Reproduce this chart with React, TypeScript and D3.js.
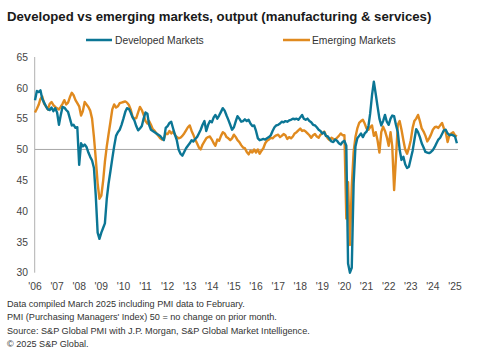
import React from "react";
import * as d3 from "d3";

// Monthly PMI values, Jan 2006 .. Feb 2025
const developed = [
  // 2006
  58.0, 59.5, 59.3, 59.6, 58.2, 57.6, 57.0, 56.5, 56.4, 56.8, 56.2, 56.7,
  // 2007
  56.0, 54.0, 55.5, 56.9, 56.8, 56.4, 56.1, 55.0, 53.9, 54.0, 53.5, 53.6,
  // 2008
  47.5, 51.0, 50.5, 50.8, 50.4, 49.5, 48.8, 48.2, 47.0, 42.5, 36.5, 35.5,
  // 2009
  36.5, 37.3, 38.0, 42.0, 44.5, 46.5, 48.5, 50.5, 52.2, 52.8, 53.2, 54.0,
  // 2010
  55.0, 56.1, 56.7, 56.6, 56.0, 55.2, 54.7, 53.8, 53.1, 53.4, 53.8, 55.0,
  // 2011
  56.0, 55.8, 54.0, 53.2, 53.0, 52.8, 52.6, 52.4, 52.2, 51.8, 51.5, 53.5,
  // 2012
  53.8, 54.3, 54.5, 53.4, 52.4, 51.5, 50.0, 49.3, 49.0, 49.6, 50.2, 50.6,
  // 2013
  51.0, 51.5, 51.3, 51.7, 52.0, 52.6, 53.2, 54.0, 54.6, 53.0, 54.0, 54.6,
  // 2014
  54.4, 55.2, 55.6, 55.0, 55.5, 56.1, 56.7, 56.3, 55.5, 54.8, 54.0, 53.2,
  // 2015
  53.6, 54.6, 55.4, 55.0, 54.5, 54.6, 54.9, 54.6, 54.8, 54.2, 53.8, 53.9,
  // 2016
  53.0, 51.8, 51.5, 51.6, 51.7, 51.6, 51.8, 52.0, 52.3, 53.0, 53.6, 53.9,
  // 2017
  54.0, 54.2, 54.5, 54.4, 54.6, 54.5, 54.7, 54.8, 55.0, 54.9, 55.0, 54.8,
  // 2018
  55.2, 55.6, 55.0, 54.8, 55.0, 54.6, 54.4, 54.0, 53.9, 53.6, 53.2, 53.0,
  // 2019
  52.6, 52.8, 52.2, 52.1, 51.7, 51.3, 51.2, 51.6, 51.4, 51.0, 50.8, 51.2,
  // 2020
  51.4, 50.6, 31.5, 30.0, 30.8, 44.5, 50.5, 51.8, 52.2, 52.6, 52.0, 52.6,
  // 2021
  52.9, 53.8, 55.8, 58.8, 61.0, 59.0, 57.0, 55.0, 53.9, 54.6, 55.6, 54.5,
  // 2022
  54.0, 55.0, 55.5, 55.4, 54.0, 52.8, 50.0, 48.3, 48.8, 47.6, 47.0, 47.2,
  // 2023
  48.5, 49.8, 51.5, 53.3, 52.8, 52.0, 51.0, 50.3, 49.6, 49.5, 49.4, 49.6,
  // 2024
  49.9, 50.4, 51.0, 51.6, 51.9, 52.5, 53.1, 53.2, 52.6, 52.3, 52.4, 52.3,
  // 2025
  52.1, 51.0,
];

const emerging = [
  // 2006
  56.0, 56.6, 57.2, 58.2, 58.6, 57.4, 57.0, 56.5, 57.4, 57.7, 57.2, 56.9,
  // 2007
  56.7, 56.5, 56.9, 57.4, 58.0, 57.3, 57.6, 58.5, 59.2, 58.8, 58.0, 57.5,
  // 2008
  57.0, 55.5, 56.2, 57.7, 57.3, 56.9, 56.3, 55.0, 52.0, 48.5, 44.5, 42.0,
  // 2009
  42.5, 45.0, 48.0, 50.5, 52.5, 54.5, 56.5, 57.3, 56.8, 57.0, 57.5, 57.6,
  // 2010
  57.7, 57.8, 57.6, 57.2, 56.5, 55.3, 55.0, 55.1, 56.0, 56.9, 56.4, 55.6,
  // 2011
  54.6, 54.2, 54.6, 54.0, 53.3, 53.0, 52.6, 52.2, 51.8, 51.6, 51.7, 52.6,
  // 2012
  52.5, 53.0, 52.6, 52.9, 52.4, 52.0, 51.8, 51.9, 52.2, 52.6, 53.1, 53.6,
  // 2013
  53.9, 53.0, 52.4, 51.6, 51.0, 50.3, 50.0, 50.8, 51.3, 51.8, 52.0, 52.1,
  // 2014
  51.6, 51.0, 50.6, 51.6, 51.4, 52.2, 52.8, 52.6, 52.0, 51.8, 51.5, 51.8,
  // 2015
  52.4, 52.0, 51.5, 51.2, 50.7, 50.3, 50.2, 49.6, 49.2, 49.8, 49.5, 50.0,
  // 2016
  49.5, 50.0, 49.3, 49.8, 50.2, 51.0, 51.4, 51.6, 51.9, 51.8, 52.1, 52.3,
  // 2017
  52.4, 52.0, 52.2, 52.5, 52.3, 51.7, 52.0, 51.8, 52.1, 52.6, 52.8, 53.1,
  // 2018
  53.4, 53.0, 53.1, 52.9, 52.6, 52.3, 51.9, 52.3, 52.5, 52.1, 51.9, 52.4,
  // 2019
  52.6, 52.9, 52.3, 51.8, 51.5, 51.9, 51.7, 51.6, 51.9, 52.2, 52.6, 52.3,
  // 2020
  52.3, 38.8, 44.7, 34.5, 44.0, 49.6, 52.0, 53.4, 54.3, 54.6, 54.8, 54.2,
  // 2021
  53.4, 53.2, 53.6, 53.9, 52.2, 52.8, 51.5, 49.5, 52.8, 53.7, 53.0, 52.0,
  // 2022
  50.6, 52.8, 50.5, 43.4, 48.5, 54.0, 54.6, 53.2, 51.5, 50.0, 49.3, 50.2,
  // 2023
  51.5, 53.5, 54.6, 55.0, 55.6, 54.6, 53.4, 52.9, 52.2, 51.3, 51.8, 52.4,
  // 2024
  53.2, 53.6, 53.7, 53.5, 53.9, 54.3, 53.4, 52.8, 51.2, 52.4, 52.6, 52.8,
  // 2025
  52.3, 52.1,
];

const yTicks = [30, 35, 40, 45, 50, 55, 60, 65];
const yearTicks = d3.range(2006, 2026);

const footnotes = [
  "Data compiled March 2025 including PMI data to February.",
  "PMI (Purchasing Managers' Index) 50 = no change on prior month.",
  "Source: S&P Global PMI with J.P. Morgan, S&P Global Market Intelligence.",
  "\u00a9 2025 S&P Global.",
];

const BLUE = "#0b7695";
const ORANGE = "#e08a1f";
const FONT = "Arial, 'Liberation Sans', sans-serif";

const width = 490;
const height = 364;

export default function App() {
  const x = d3
    .scaleTime()
    .domain([new Date(2006, 0, 1), new Date(2025, 0, 1)])
    .range([35, 455]);

  const y = d3.scaleLinear().domain([30, 65]).range([272.7, 57]);

  const dates = developed.map((_, i) => new Date(2006, i, 1));

  const line = d3
    .line<number>()
    .x((_, i) => x(dates[i]))
    .y((d) => y(d));

  return (
    <svg
      width={width}
      height={height}
      style={{ position: "absolute", left: 0, top: 0, background: "#fff" }}
      fontFamily={FONT}
    >
      <text x={7} y={21} fontSize={13.2} fontWeight="bold" fill="#1a1a1a">
        Developed vs emerging markets, output (manufacturing &amp; services)
      </text>

      {/* legend */}
      <line x1={86} x2={112} y1={40} y2={40} stroke={BLUE} strokeWidth={2.5} />
      <text x={115} y={43.5} fontSize={10.3} fill="#333">
        Developed Markets
      </text>
      <line x1={283} x2={310} y1={40} y2={40} stroke={ORANGE} strokeWidth={2.5} />
      <text x={312} y={43.5} fontSize={10.3} fill="#333">
        Emerging Markets
      </text>

      {/* y axis */}
      <line x1={34.7} x2={34.7} y1={y(65)} y2={y(30)} stroke="#b0b0b0" strokeWidth={1} />
      {yTicks.map((t) => (
        <text key={t} x={28} y={y(t) + 3.7} fontSize={10.3} fill="#444" textAnchor="end">
          {t}
        </text>
      ))}

      {/* x labels */}
      {yearTicks.map((yr) => (
        <text
          key={yr}
          x={x(new Date(yr, 0, 1))}
          y={289.5}
          fontSize={10.3}
          fill="#444"
          textAnchor="middle"
        >
          {"'" + String(yr).slice(2)}
        </text>
      ))}

      {/* 50 reference line */}
      <line x1={35} x2={458} y1={y(50)} y2={y(50)} stroke="#a6a6a6" strokeWidth={1} />

      <path d={line(emerging) || ""} fill="none" stroke={ORANGE} strokeWidth={2.4} strokeLinejoin="round" />
      <path d={line(developed) || ""} fill="none" stroke={BLUE} strokeWidth={2.4} strokeLinejoin="round" />

      {footnotes.map((f, i) => (
        <text key={i} x={7} y={307 + i * 13.4} fontSize={9.15} fill="#333">
          {f}
        </text>
      ))}
    </svg>
  );
}
